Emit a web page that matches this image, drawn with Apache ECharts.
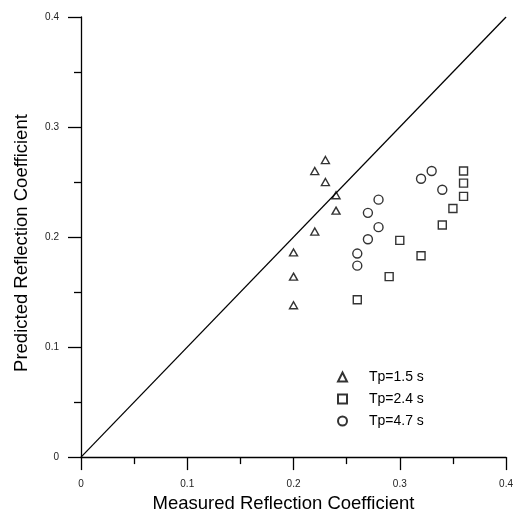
<!DOCTYPE html>
<html><head><meta charset="utf-8">
<script src="https://cdn.jsdelivr.net/npm/echarts@6/dist/echarts.min.js"></script>
<style>html,body{margin:0;padding:0;background:#fff}#c{width:516px;height:518px}</style>
</head><body><div id="c"></div>
<script>
const seriesNames = ['Tp=1.5 s', 'Tp=2.4 s', 'Tp=4.7 s'];
const tp15 = [[0.23,0.270],[0.22,0.260],[0.23,0.250],[0.24,0.238],[0.24,0.224],[0.22,0.205],[0.20,0.186],[0.20,0.164],[0.20,0.138]];
const tp24 = [[0.36,0.260],[0.36,0.249],[0.36,0.237],[0.35,0.226],[0.34,0.211],[0.30,0.197],[0.32,0.183],[0.29,0.164],[0.26,0.143]];
const tp47 = [[0.33,0.260],[0.32,0.253],[0.34,0.243],[0.28,0.234],[0.27,0.222],[0.28,0.209],[0.27,0.198],[0.26,0.185],[0.26,0.174]];
const diagonal = [[0,0],[0.4,0.4]];
const axisMin = 0, axisMax = 0.4, axisStep = 0.1;

const chart = echarts.init(document.getElementById('c'), null, {renderer:'canvas'});
const font = 'Arial, "Liberation Sans", sans-serif';
const markStyle = {color:'#fff', borderColor:'#000', borderWidth:1.4};
function axis(name, gap, pad){
  return {
    type:'value', min:axisMin, max:axisMax, interval:axisStep, name:name,
    nameLocation:'middle', nameGap:gap,
    nameTextStyle:{fontFamily:font, fontSize:18.5, color:'#000', padding:pad},
    axisLine:{show:true, lineStyle:{color:'#000', width:1.3}},
    axisTick:{show:true, length:13, lineStyle:{color:'#000', width:1.3}},
    minorTick:{show:true, splitNumber:2, length:7, lineStyle:{color:'#000', width:1.3}},
    splitLine:{show:false},
    axisLabel:{fontFamily:font, fontSize:10, color:'#222', margin:22},
  };
}
chart.setOption({
  animation:false,
  backgroundColor:'#fff',
  grid:{left:81, right:7, top:17, bottom:56},
  xAxis: axis('Measured Reflection Coefficient', 35, [0,20,0,0]),
  yAxis: axis('Predicted Reflection Coefficient', 50, [0,12,0,0]),
  legend:{
    orient:'vertical', left:332, top:365, itemGap:8, itemWidth:9, itemHeight:9,
    data:[{name:seriesNames[0], icon:'triangle'},{name:seriesNames[1], icon:'rect'},{name:seriesNames[2], icon:'circle'}],
    textStyle:{fontFamily:font, fontSize:14, color:'#000', padding:[0,0,0,17]}
  },
  series:[
    {type:'line', data:diagonal, symbol:'none', lineStyle:{color:'#000', width:1.3}, silent:true},
    {name:seriesNames[0], type:'scatter', data:tp15, symbol:'triangle', symbolSize:[8,7], itemStyle:markStyle},
    {name:seriesNames[1], type:'scatter', data:tp24, symbol:'rect', symbolSize:8, itemStyle:markStyle},
    {name:seriesNames[2], type:'scatter', data:tp47, symbol:'circle', symbolSize:9, itemStyle:markStyle}
  ]
});
</script></body></html>
